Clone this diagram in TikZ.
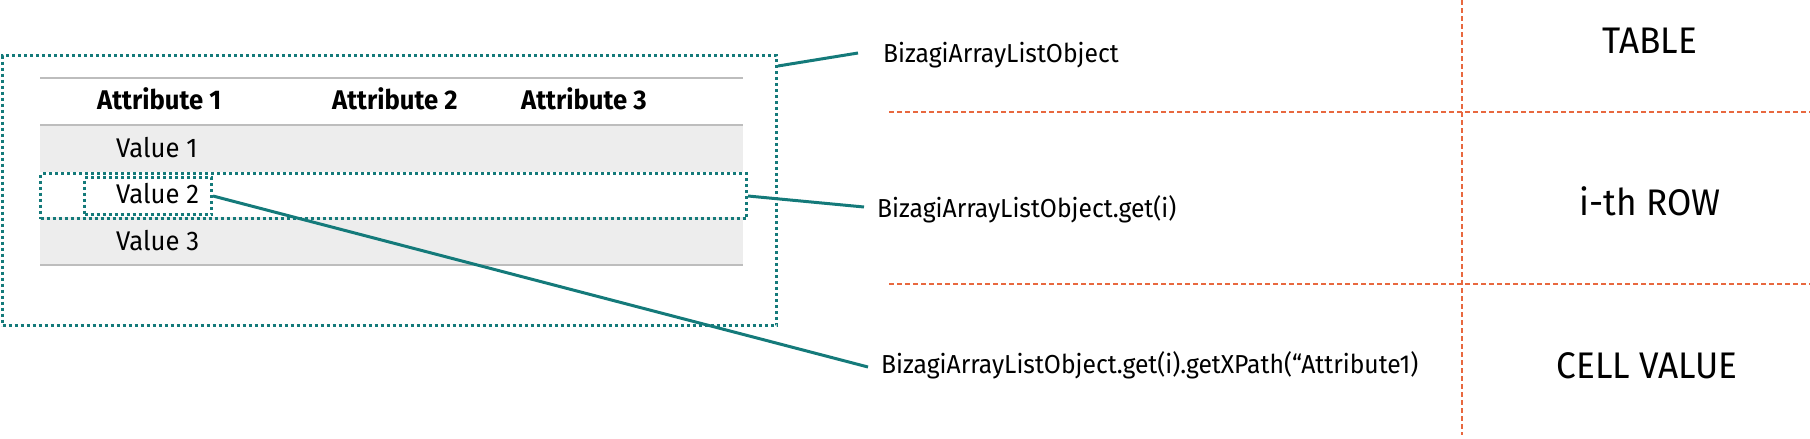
\documentclass[tikz,border=0pt]{standalone}
\usepackage{fontspec}
\setmainfont{Fira Sans}[FakeStretch=0.95]
\definecolor{tealc}{HTML}{147A7A}
\definecolor{orangec}{HTML}{E8683F}
\definecolor{rowgray}{HTML}{EDEDED}
\definecolor{linegray}{HTML}{BDBDBD}
\begin{document}
\begin{tikzpicture}[x=1pt,y=-1pt,
  dotbox/.style={draw=tealc, line width=3pt, dash pattern=on 3pt off 3pt, inner sep=0pt, rectangle},
  conn/.style={draw=tealc, line width=3pt},
  guide/.style={draw=orangec, line width=1.2pt, dash pattern=on 5pt off 3pt},
  hdr/.style={font=\fontsize{27}{30}\selectfont\bfseries, inner sep=0pt, anchor=base west},
  val/.style={font=\fontsize{27}{30}\selectfont, inner sep=0pt, anchor=base west},
  code/.style={font=\fontsize{26}{30}\selectfont, inner sep=0pt, anchor=base west},
  lbl/.style={font=\fontsize{37}{40}\selectfont, inner sep=0pt, anchor=base}]
\useasboundingbox (0,0) rectangle (1810,439);
% table rows
\fill[rowgray] (40,125) rectangle (743,172);
\fill[rowgray] (40,217) rectangle (743,265);
\draw[linegray, line width=1.5pt] (40,78) -- (743,78);
\draw[linegray, line width=1.5pt] (40,125) -- (743,125);
\draw[linegray, line width=1.5pt] (40,265) -- (743,265);
% texts in table
\node[hdr] (a1) at (97,109) {Attribute 1};
\node[hdr] (a2) at (332,109) {Attribute 2};
\node[hdr] (a3) at (521,109) {Attribute 3};
\node[val] (v1) at (116,157) {Value 1};
\node[val] (v2) at (116,203) {Value 2};
\node[val] (v3) at (116,250) {Value 3};
% dotted boxes
\node[dotbox, minimum width=774pt, minimum height=270pt, anchor=north west] (tbl) at (1,54) {};
\node[dotbox, minimum width=706pt, minimum height=45pt, anchor=north west] (row) at (39,172) {};
\node[dotbox, minimum width=127pt, minimum height=37pt, anchor=north west] (cell) at (83,176) {};
% right texts
\node[code] (t1) at (883,62) {BizagiArrayListObject};
\node[code] (t2) at (877,217) {BizagiArrayListObject.get(i)};
\node[code] (t3) at (881,373) {BizagiArrayListObject.get(i).getXPath(“Attribute1)};
% connectors
\draw[conn] ([yshift=-12pt]tbl.north east) -- ([xshift=-25pt,yshift=9pt]t1.base west);
\draw[conn] (row.east) -- ([xshift=-13pt,yshift=10pt]t2.base west);
\draw[conn] (cell.east) -- ([xshift=-13pt,yshift=6pt]t3.base west);
% guides
\draw[guide] (1462,0) -- (1462,435);
\draw[guide] (889,112) -- (1810,112);
\draw[guide] (889,284) -- (1810,284);
% labels
\node[lbl] (l1) at (1650,53) {TABLE};
\node[lbl] (l2) at (1650,215) {i-th ROW};
\node[lbl] (l3) at (1647,378) {CELL VALUE};
\end{tikzpicture}
\end{document}
